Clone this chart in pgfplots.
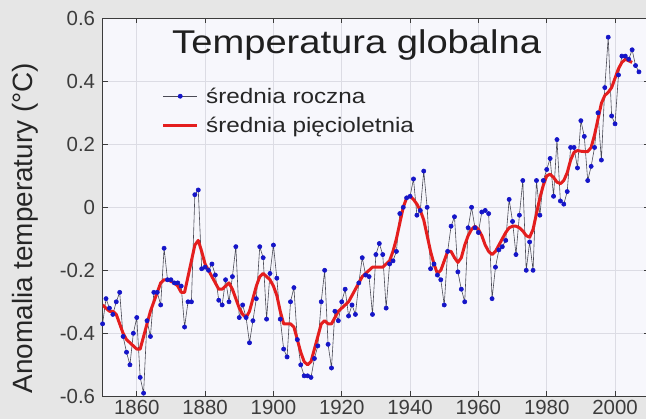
\documentclass[border=0pt]{standalone}
\usepackage{fontspec}
\setmainfont{Liberation Sans}
\newfontfamily\widefont{Liberation Sans}[FakeStretch=1.16]
\usepackage{pgfplots}
\pgfplotsset{compat=1.18}

\definecolor{figbg}{HTML}{E6E6E6}
\definecolor{plotbg}{HTML}{F7F7FC}
\definecolor{gridc}{HTML}{DCDCE4}
\definecolor{axisc}{HTML}{3C3C3C}
\definecolor{annual}{HTML}{1515C8}
\definecolor{annualline}{HTML}{4A4A55}
\definecolor{meanred}{HTML}{E41E1E}

% Annual global temperature anomaly (deg C)
\pgfplotstableread{
year val
1850 -0.37
1851 -0.29
1852 -0.32
1853 -0.34
1854 -0.30
1855 -0.27
1856 -0.41
1857 -0.46
1858 -0.50
1859 -0.40
1860 -0.35
1861 -0.54
1862 -0.59
1863 -0.36
1864 -0.41
1865 -0.27
1866 -0.27
1867 -0.31
1868 -0.13
1869 -0.23
1870 -0.23
1871 -0.24
1872 -0.24
1873 -0.25
1874 -0.38
1875 -0.30
1876 -0.30
1877 0.04
1878 0.055
1879 -0.195
1880 -0.19
1881 -0.20
1882 -0.18
1883 -0.215
1884 -0.295
1885 -0.31
1886 -0.23
1887 -0.30
1888 -0.22
1889 -0.125
1890 -0.35
1891 -0.31
1892 -0.35
1893 -0.43
1894 -0.36
1895 -0.29
1896 -0.125
1897 -0.16
1898 -0.355
1899 -0.21
1900 -0.12
1901 -0.225
1902 -0.355
1903 -0.45
1904 -0.475
1905 -0.30
1906 -0.255
1907 -0.42
1908 -0.50
1909 -0.535
1910 -0.535
1911 -0.54
1912 -0.48
1913 -0.44
1914 -0.30
1915 -0.20
1916 -0.435
1917 -0.51
1918 -0.33
1919 -0.36
1920 -0.30
1921 -0.26
1922 -0.345
1923 -0.31
1924 -0.34
1925 -0.24
1926 -0.16
1927 -0.215
1928 -0.22
1929 -0.34
1930 -0.15
1931 -0.115
1932 -0.15
1933 -0.32
1934 -0.18
1935 -0.17
1936 -0.14
1937 -0.02
1938 0.00
1939 0.03
1940 0.035
1941 0.09
1942 -0.025
1943 -0.01
1944 0.115
1945 0.00
1946 -0.195
1947 -0.18
1948 -0.215
1949 -0.23
1950 -0.31
1951 -0.14
1952 -0.06
1953 -0.03
1954 -0.205
1955 -0.26
1956 -0.30
1957 -0.065
1958 0.00
1959 -0.065
1960 -0.08
1961 -0.015
1962 -0.01
1963 -0.02
1964 -0.29
1965 -0.19
1966 -0.135
1967 -0.125
1968 -0.105
1969 0.025
1970 -0.045
1971 -0.15
1972 -0.025
1973 0.085
1974 -0.20
1975 -0.11
1976 -0.20
1977 0.085
1978 -0.025
1979 0.085
1980 0.12
1981 0.155
1982 0.035
1983 0.215
1984 0.02
1985 0.01
1986 0.05
1987 0.19
1988 0.19
1989 0.125
1990 0.275
1991 0.225
1992 0.085
1993 0.13
1994 0.19
1995 0.30
1996 0.15
1997 0.38
1998 0.54
1999 0.29
2000 0.265
2001 0.42
2002 0.48
2003 0.48
2004 0.47
2005 0.50
2006 0.45
2007 0.43
}\annual

% Five-year mean
\pgfplotstableread{
year val
1850 -0.31
1851 -0.32
1852 -0.33
1853 -0.33
1854 -0.34
1855 -0.37
1856 -0.40
1857 -0.42
1858 -0.43
1859 -0.44
1860 -0.45
1861 -0.45
1862 -0.41
1863 -0.37
1864 -0.33
1865 -0.30
1866 -0.27
1867 -0.24
1868 -0.23
1869 -0.23
1870 -0.235
1871 -0.24
1872 -0.25
1873 -0.27
1874 -0.27
1875 -0.22
1876 -0.17
1877 -0.12
1878 -0.105
1879 -0.14
1880 -0.18
1881 -0.20
1882 -0.22
1883 -0.24
1884 -0.26
1885 -0.26
1886 -0.25
1887 -0.24
1888 -0.26
1889 -0.29
1890 -0.32
1891 -0.34
1892 -0.35
1893 -0.33
1894 -0.29
1895 -0.25
1896 -0.22
1897 -0.21
1898 -0.22
1899 -0.23
1900 -0.25
1901 -0.28
1902 -0.33
1903 -0.37
1904 -0.37
1905 -0.37
1906 -0.38
1907 -0.42
1908 -0.46
1909 -0.49
1910 -0.50
1911 -0.49
1912 -0.45
1913 -0.41
1914 -0.37
1915 -0.36
1916 -0.37
1917 -0.37
1918 -0.35
1919 -0.33
1920 -0.32
1921 -0.31
1922 -0.30
1923 -0.28
1924 -0.26
1925 -0.24
1926 -0.22
1927 -0.21
1928 -0.20
1929 -0.19
1930 -0.19
1931 -0.19
1932 -0.19
1933 -0.18
1934 -0.17
1935 -0.14
1936 -0.10
1937 -0.05
1938 0.00
1939 0.03
1940 0.035
1941 0.025
1942 0.01
1943 -0.01
1944 -0.04
1945 -0.09
1946 -0.14
1947 -0.18
1948 -0.21
1949 -0.20
1950 -0.17
1951 -0.14
1952 -0.14
1953 -0.16
1954 -0.175
1955 -0.16
1956 -0.12
1957 -0.09
1958 -0.07
1959 -0.06
1960 -0.07
1961 -0.09
1962 -0.12
1963 -0.14
1964 -0.15
1965 -0.14
1966 -0.12
1967 -0.10
1968 -0.08
1969 -0.065
1970 -0.06
1971 -0.06
1972 -0.065
1973 -0.075
1974 -0.09
1975 -0.095
1976 -0.07
1977 -0.02
1978 0.03
1979 0.07
1980 0.10
1981 0.105
1982 0.095
1983 0.08
1984 0.075
1985 0.085
1986 0.11
1987 0.15
1988 0.175
1989 0.18
1990 0.178
1991 0.177
1992 0.177
1993 0.19
1994 0.23
1995 0.28
1996 0.33
1997 0.355
1998 0.365
1999 0.38
2000 0.41
2001 0.44
2002 0.46
2003 0.47
2004 0.465
2005 0.46
}\fiveyear

\begin{document}
\begin{tikzpicture}[x=1bp,y=1bp]
\useasboundingbox (0,0) rectangle (646,419);
\fill[figbg] (0,0) rectangle (646,419);
\begin{axis}[
  at={(102.6bp,22.7bp)}, anchor=south west,
  scale only axis, width=546.6bp, height=378bp,
  xmin=1850, xmax=2010, ymin=-0.6, ymax=0.6,
  xtick={1860,1880,...,2000},
  ytick={-0.6,-0.4,...,0.61},
  yticklabels={-0.6,-0.4,-0.2,0,0.2,0.4,0.6},
  /pgf/number format/assume math mode=true,
  xticklabel style={/pgf/number format/1000 sep={}},
  yticklabel style={xshift=-4bp},
  ticklabel style={font=\fontsize{20.5}{24}\selectfont, text=axisc},
  xtick pos=both, ytick pos=both, tick align=inside,
  major tick length=5bp,
  tick style={axisc, line width=1bp},
  axis line style={axisc, line width=1.6bp},
  axis background/.style={fill=plotbg},
  grid=major, major grid style={gridc, line width=0.7bp},
  title={Temperatura globalna},
  title style={at={(axis description cs:0.127,0.8915)}, anchor=base west,
    inner sep=0pt, font=\widefont\fontsize{33}{38}\selectfont, text=black!88},
  ylabel={Anomalia temperatury (°C)},
  ylabel style={at={(axis description cs:-0.142,0.445)}, anchor=center,
    font=\fontsize{28}{32}\selectfont, text=black!85},
  legend cell align=left,
  legend style={at={(axis description cs:0.1078,0.8235)}, anchor=north west,
    draw=none, fill=none, inner sep=0pt, row sep=4bp,
    font=\widefont\fontsize{21}{25}\selectfont, text=black!85,
    nodes={inner xsep=7.5bp, inner ysep=2bp, text height=16bp, text depth=5bp},
    /tikz/every even column/.append style={column sep=5bp}},
]
\addplot[annualline, line width=0.6bp, mark=*, mark size=2.1bp,
  mark options={draw=annual, fill=annual},
  legend image code/.code={\draw[mark repeat=2,mark phase=2]
    plot coordinates {(0bp,1.5bp) (17bp,1.5bp) (34bp,1.5bp)};}]
  table[x=year, y=val] {\annual};
\addlegendentry{średnia roczna}
\addplot[meanred, line width=3bp, line join=round,
  legend image code/.code={\draw (0bp,1.5bp) -- (34bp,1.5bp);}]
  table[x=year, y=val] {\fiveyear};
\addlegendentry{średnia pięcioletnia}
\end{axis}
\end{tikzpicture}
\end{document}
